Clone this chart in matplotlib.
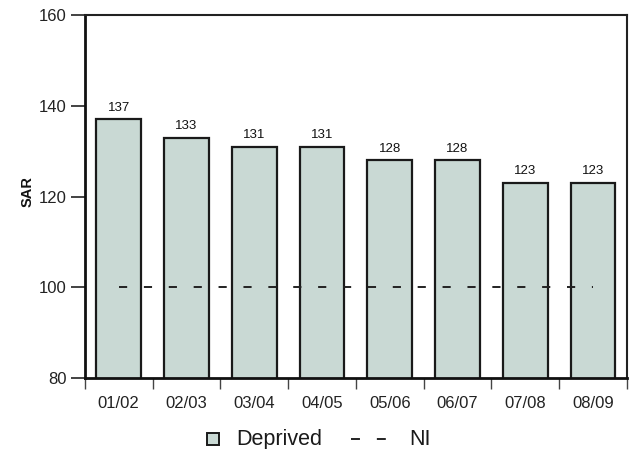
import matplotlib
matplotlib.use("Agg")
import matplotlib.pyplot as plt
from matplotlib.lines import Line2D
import numpy as np

plt.rcParams['font.family'] = ['Liberation Sans', 'DejaVu Sans']

categories = ["01/02", "02/03", "03/04", "04/05", "05/06", "06/07", "07/08", "08/09"]
deprived = [137, 133, 131, 131, 128, 128, 123, 123]
ni_value = 100

W, H = 633, 449
fig = plt.figure(figsize=(6.33, 4.49), dpi=100)
ax = fig.add_axes([0.134, 0.158, 0.8565, 0.8085])

x = np.arange(len(categories))
ax.bar(x, deprived, width=0.66, color="#c9d9d4", edgecolor="#1a1a1a", linewidth=1.6, zorder=2)
for xi, v in zip(x, deprived):
    ax.text(xi, v + 1.2, str(v), ha="center", va="bottom", fontsize=9.5, color="#111111")

ax.plot([x[0], x[-1]], [ni_value, ni_value], color="#222222", linewidth=1.4,
        dashes=(4.2, 8.6), zorder=3)

ax.set_xlim(-0.5, len(categories) - 0.5)
ax.set_ylim(80, 160)
ax.set_yticks([80, 100, 120, 140, 160])
ax.tick_params(axis="y", direction="out", length=10, width=1.2, labelsize=12, pad=3, colors="#222222")
ax.set_xticks(x)
ax.set_xticklabels(categories)
ax.tick_params(axis="x", which="major", length=0, labelsize=12, pad=13, colors="#222222")
ax.set_xticks(np.arange(-0.5, len(categories), 1.0), minor=True)
ax.tick_params(axis="x", which="minor", direction="out", length=8, width=1.0, color="#444444")

fig.text(28 / W, 1 - 192 / H, "SAR", rotation=90, ha="center", va="center",
         fontsize=10.5, fontweight="bold", color="#111111")

for side in ["left", "bottom"]:
    ax.spines[side].set_linewidth(2.0)
    ax.spines[side].set_color("#111111")
for side in ["top", "right"]:
    ax.spines[side].set_linewidth(1.5)
    ax.spines[side].set_color("#222222")

# Legend (manually placed in figure coordinates)
ly = 1 - 438.5 / H
lb = 1 - 445 / H
fig.add_artist(Line2D([213 / W], [ly], transform=fig.transFigure, linestyle="none",
                      marker="s", markersize=8, markerfacecolor="#c9d9d4",
                      markeredgecolor="#1a1a1a", markeredgewidth=1.4))
fig.text(236 / W, lb, "Deprived", ha="left", va="baseline", fontsize=15.5, color="#1a1a1a")
fig.add_artist(Line2D([351 / W, 386 / W], [ly, ly], transform=fig.transFigure,
                      color="#222222", linewidth=1.4, dashes=(4.6, 8.7)))
fig.text(409 / W, lb, "NI", ha="left", va="baseline", fontsize=15.5, color="#1a1a1a")

fig.savefig("out.png", dpi=100)
